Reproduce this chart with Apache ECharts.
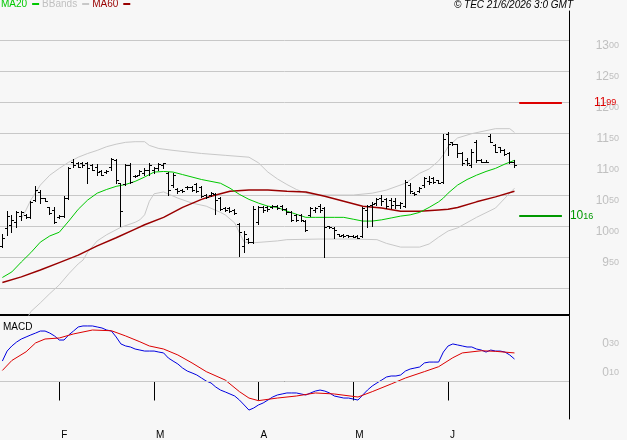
<!DOCTYPE html>
<html>
<head>
<meta charset="utf-8">
<script src="https://cdn.jsdelivr.net/npm/echarts@6/dist/echarts.min.js"></script>
<style>
html, body { margin: 0; padding: 0; background: #f7f7f7; }
#chart { width: 627px; height: 440px; }
</style>
</head>
<body>
<div id="chart"></div>
<script>
// trading days, Jan 14 -> Jul 3 2026 (bars stop on Jun 18, the rest is empty room)
var firstDay = '2026-01-14';
var lastDay = '2026-07-03';
var holidays = ['2026-04-03', '2026-04-06', '2026-05-01'];
var monthLetters = ['J', 'F', 'M', 'A', 'M', 'J', 'J', 'A', 'S', 'O', 'N', 'D'];

var opens = [9.68,9.97,10.02,10.06,10.16,10.18,10.14,10.42,10.55,10.45,10.30,10.26,10.14,10.16,10.45,11.04,11.01,11.01,11.01,10.98,
  10.96,10.88,10.87,10.95,11.06,10.69,10.67,10.98,10.80,10.83,10.85,10.90,10.90,10.93,10.98,10.85,10.66,10.59,10.58,10.63,
  10.63,10.67,10.63,10.50,10.50,10.51,10.45,10.29,10.29,10.26,10.03,9.68,9.79,9.74,10.06,10.30,10.30,10.30,10.32,10.32,
  10.27,10.22,10.18,10.18,10.08,10.18,10.26,10.32,10.29,10.00,9.97,9.87,9.86,9.86,9.84,9.84,9.84,10.26,10.34,10.37,
  10.45,10.43,10.42,10.40,10.34,10.32,10.66,10.53,10.56,10.66,10.72,10.77,10.74,10.71,11.49,11.35,11.32,11.17,11.06,10.98,
  11.36,11.06,11.04,11.46,11.30,11.27,11.22,11.17,11.04];
var highs = [9.87,10.24,10.18,10.24,10.24,10.19,10.40,10.64,10.58,10.45,10.30,10.30,10.18,10.48,10.95,11.08,11.03,11.03,11.03,11.00,
  11.00,10.90,10.90,11.09,11.08,10.69,11.00,11.01,10.82,10.90,10.93,11.01,10.95,11.01,11.01,10.87,10.85,10.61,10.59,10.64,
  10.64,10.69,10.64,10.51,10.55,10.53,10.47,10.30,10.30,10.27,10.05,9.92,9.81,10.32,10.32,10.32,10.32,10.34,10.34,10.34,
  10.29,10.24,10.19,10.19,10.10,10.30,10.30,10.35,10.30,10.00,9.98,9.87,9.87,9.86,9.86,9.86,10.30,10.34,10.39,10.45,
  10.50,10.45,10.45,10.45,10.39,10.74,10.69,10.55,10.63,10.79,10.80,10.79,10.75,11.49,11.52,11.36,11.33,11.19,11.09,11.24,
  11.38,11.08,11.06,11.49,11.32,11.28,11.24,11.19,11.06];
var lows = [9.66,9.86,9.90,9.98,10.10,10.13,10.13,10.40,10.37,10.40,10.19,10.05,10.13,10.14,10.43,10.95,10.95,10.95,10.69,10.90,
  10.82,10.82,10.85,10.90,10.69,10.00,10.66,10.69,10.79,10.82,10.82,10.82,10.85,10.90,10.93,10.50,10.63,10.53,10.55,10.59,
  10.56,10.55,10.47,10.45,10.48,10.19,10.26,10.24,10.22,10.19,9.52,9.58,9.73,9.73,10.03,10.22,10.24,10.29,10.27,10.26,
  10.19,10.08,10.08,10.08,9.92,10.16,10.22,10.22,9.50,9.97,9.81,9.84,9.82,9.82,9.82,9.81,9.82,9.98,10.00,10.34,
  10.34,10.29,10.29,10.29,10.29,10.30,10.53,10.50,10.55,10.63,10.67,10.69,10.69,10.69,11.14,11.30,11.12,10.98,10.98,10.95,
  11.03,11.03,11.03,11.35,11.19,11.20,11.14,11.01,10.95];
var closes = [9.81,10.16,10.10,10.22,10.22,10.14,10.39,10.58,10.45,10.40,10.21,10.06,10.16,10.45,10.93,10.98,10.96,10.98,10.93,10.91,
  10.87,10.83,10.88,11.08,10.74,10.24,10.98,10.71,10.80,10.88,10.90,10.98,10.93,11.00,11.01,10.58,10.82,10.56,10.56,10.63,
  10.58,10.56,10.48,10.47,10.53,10.42,10.27,10.26,10.24,10.21,9.90,9.87,9.74,10.27,10.30,10.26,10.27,10.32,10.29,10.27,
  10.22,10.10,10.10,10.10,9.94,10.29,10.29,10.26,9.98,9.98,9.94,9.84,9.84,9.84,9.82,9.81,10.29,10.32,10.35,10.43,
  10.40,10.32,10.34,10.34,10.37,10.71,10.56,10.51,10.61,10.77,10.71,10.71,10.69,11.40,11.32,11.32,11.17,11.01,11.01,11.20,
  11.06,11.04,11.04,11.36,11.20,11.22,11.16,11.03,10.98];

// indicator lines: [bar index, value]
var ma20 = [[0,9.17],[2,9.26],[4,9.42],[6,9.57],[8,9.74],[10,9.84],[12,9.90],[14,10.08],[16,10.27],[18,10.42],[20,10.53],[22,10.59],
  [24,10.64],[26,10.67],[28,10.72],[30,10.79],[32,10.87],[34,10.88],[36,10.87],[38,10.83],[40,10.79],[42,10.75],[44,10.72],[46,10.69],
  [48,10.61],[50,10.51],[52,10.43],[54,10.37],[56,10.32],[58,10.30],[60,10.24],[62,10.19],[64,10.14],[66,10.14],[68,10.14],[70,10.14],
  [72,10.14],[74,10.11],[76,10.08],[78,10.08],[80,10.10],[82,10.13],[84,10.16],[86,10.18],[88,10.22],[90,10.30],[92,10.39],[93,10.45],
  [94,10.53],[96,10.66],[98,10.75],[100,10.82],[102,10.88],[104,10.93],[106,11.00],[108,11.06]];
var ma60 = [[0,9.09],[4,9.18],[8,9.29],[12,9.41],[16,9.53],[20,9.68],[24,9.81],[28,9.95],[30,10.02],[34,10.14],[38,10.30],[42,10.43],
  [44,10.48],[48,10.56],[52,10.58],[56,10.58],[60,10.56],[64,10.55],[68,10.48],[72,10.40],[76,10.32],[80,10.29],[84,10.24],[88,10.24],
  [92,10.26],[94,10.27],[96,10.30],[100,10.39],[104,10.47],[108,10.56]];
var bbUpper = [[4,10.12],[5,10.26],[6,10.42],[8,10.66],[10,10.82],[12,10.93],[14,11.03],[16,11.11],[18,11.17],[20,11.22],[22,11.28],
  [24,11.32],[26,11.35],[28,11.36],[30,11.36],[31,11.30],[33,11.25],[36,11.22],[42,11.17],[47,11.14],[52,11.11],[54,11.02],[56,10.87],
  [58,10.76],[60,10.67],[62,10.59],[64,10.53],[66,10.50],[74,10.50],[78,10.53],[81,10.58],[85,10.69],[88,10.85],[90,10.92],[92,11.05],
  [93,11.15],[94,11.28],[96,11.42],[99,11.49],[104,11.57],[107,11.57],[108,11.51]];
var bbLower = [[4,8.33],[6,8.62],[8,8.76],[10,8.91],[12,9.05],[14,9.23],[16,9.39],[17,9.45],[18,9.58],[20,9.76],[22,9.86],[25,9.98],
  [28,10.06],[29,10.10],[30,10.18],[31,10.40],[32,10.52],[34,10.55],[37,10.45],[40,10.37],[43,10.32],[46,10.22],[47,10.18],[49,10.05],
  [50,9.89],[51,9.74],[53,9.73],[58,9.76],[60,9.78],[67,9.79],[74,9.79],[79,9.78],[81,9.72],[84,9.66],[88,9.66],[90,9.71],[92,9.82],
  [94,9.92],[96,9.97],[100,10.14],[104,10.29],[106,10.45],[108,10.61]];

var macdLine = [0.141,0.210,0.245,0.272,0.293,0.307,0.321,0.334,0.348,0.348,
  0.334,0.314,0.286,0.286,0.321,0.348,0.376,0.383,0.383,0.383,
  0.376,0.369,0.355,0.348,0.307,0.259,0.245,0.238,0.224,0.217,
  0.210,0.210,0.210,0.203,0.197,0.162,0.141,0.121,0.093,0.072,
  0.059,0.045,0.024,0.003,-0.010,-0.038,-0.059,-0.072,-0.086,-0.100,
  -0.128,-0.162,-0.197,-0.183,-0.162,-0.148,-0.128,-0.107,-0.093,-0.086,
  -0.079,-0.079,-0.079,-0.086,-0.093,-0.079,-0.066,-0.059,-0.066,-0.079,
  -0.100,-0.107,-0.114,-0.114,-0.121,-0.128,-0.093,-0.059,-0.031,-0.010,
  0.010,0.031,0.038,0.038,0.045,0.072,0.086,0.093,0.100,0.128,
  0.134,0.134,0.134,0.203,0.245,0.259,0.252,0.245,0.238,0.238,
  0.224,0.217,0.203,0.217,0.210,0.210,0.203,0.183,0.155];
var signalLine = [[0,0.076],[2,0.145],[5,0.205],[7,0.266],[9,0.293],[12,0.300],[15,0.328],[19,0.355],[23,0.350],[26,0.314],[29,0.274],
  [31,0.245],[34,0.224],[37,0.183],[40,0.128],[43,0.068],[47,0.010],[50,-0.070],[52,-0.114],[54,-0.132],[58,-0.114],[62,-0.100],
  [66,-0.079],[70,-0.086],[75,-0.107],[78,-0.070],[82,-0.017],[85,0.024],[89,0.068],[92,0.102],[95,0.164],[97,0.197],[101,0.212],
  [104,0.208],[108,0.197]];

var resistanceLevel = 11.99;
var supportLevel = 10.16;

var FONT = '"Liberation Sans", Arial, sans-serif';
var GRID_GRAY = '#c8c8c8';
var LABEL_GRAY = '#c0c0c0';

// build the category list
var categories = [];
var day = new Date(firstDay + 'T00:00:00Z');
while (day.toISOString().slice(0, 10) <= lastDay) {
    var s = day.toISOString().slice(0, 10);
    var wd = day.getUTCDay();
    if (wd !== 0 && wd !== 6 && holidays.indexOf(s) < 0) categories.push(s);
    day.setUTCDate(day.getUTCDate() + 1);
}

var lastBar = opens.length - 1;

// month marks only where there are bars
function isMonthEnd(index) {
    return index < lastBar && categories[index].slice(5, 7) !== categories[index + 1].slice(5, 7);
}

function priceRich(v) {
    var p = v.toFixed(2).split('.');
    return '{i|' + p[0] + '}{d|' + p[1] + '}';
}

function richStyle(color) {
    return {
        i: { fontSize: 12, color: color, fontFamily: FONT, lineHeight: 11, verticalAlign: 'middle' },
        d: { fontSize: 9, color: color, fontFamily: FONT, lineHeight: 11, verticalAlign: 'middle' }
    };
}

var ohlcData = opens.map(function (o, i) {
    return [i, o, highs[i], lows[i], closes[i]];
});
var macdData = macdLine.map(function (v, i) { return [i, v]; });

function renderOhlc(params, api) {
    var i = api.value(0);
    var pO = api.coord([i, api.value(1)]);
    var pH = api.coord([i, api.value(2)]);
    var pL = api.coord([i, api.value(3)]);
    var pC = api.coord([i, api.value(4)]);
    var col = Math.floor(pO[0]);
    var top = Math.round(pH[1]);
    var bottom = Math.round(pL[1]);
    var style = { fill: '#000' };
    return {
        type: 'group',
        children: [
            { type: 'rect', shape: { x: col, y: top, width: 1, height: Math.max(1, bottom - top + 1) }, style: style },
            { type: 'rect', shape: { x: col - 2, y: Math.round(pO[1]), width: 2, height: 1 }, style: style },
            { type: 'rect', shape: { x: col + 1, y: Math.round(pC[1]), width: 2, height: 1 }, style: style }
        ]
    };
}

function levelLine(level, color, distance) {
    return [
        {
            coord: [lastBar + 1, level],
            lineStyle: { color: color, width: 2, type: 'solid' },
            label: {
                show: true,
                position: 'end',
                distance: distance,
                formatter: priceRich(level),
                rich: richStyle(color)
            }
        },
        { coord: [lastBar + 10, level] }
    ];
}

var chart = echarts.init(document.getElementById('chart'));

var option = {
    backgroundColor: '#f7f7f7',
    animation: false,
    textStyle: { fontFamily: FONT },
    title: [
        {
            text: '© TEC 21/6/2026 3:0 GMT',
            right: 54, top: 0, padding: 0,
            textStyle: { fontSize: 10, fontStyle: 'italic', fontWeight: 'normal', color: '#000', lineHeight: 11, fontFamily: FONT }
        },
        {
            text: 'MACD',
            left: 3, top: 322, padding: 0,
            textStyle: { fontSize: 10, fontWeight: 'normal', color: '#000', lineHeight: 11, fontFamily: FONT }
        }
    ],
    legend: {
        left: 1, top: -1, padding: 0,
        itemGap: 3, itemWidth: 7, itemHeight: 2,
        align: 'right', icon: 'rect', selectedMode: false,
        textStyle: { fontSize: 10, fontFamily: FONT },
        data: [
            { name: 'MA20', textStyle: { color: '#00c800' } },
            { name: 'BBands', textStyle: { color: LABEL_GRAY } },
            { name: 'MA60', textStyle: { color: '#990000' } }
        ]
    },
    grid: [
        { left: 0, right: 58, top: 11, bottom: 125, outerBoundsMode: 'none' },
        { left: 0, right: 58, top: 316, bottom: 21, outerBoundsMode: 'none' }
    ],
    xAxis: [
        {
            type: 'category', gridIndex: 0, data: categories, boundaryGap: true,
            axisLine: { lineStyle: { color: '#000', width: 2 } },
            axisTick: { show: false }, axisLabel: { show: false }, splitLine: { show: false }
        },
        {
            type: 'category', gridIndex: 1, data: categories, boundaryGap: true,
            axisLine: { lineStyle: { color: '#000', width: 1 } },
            axisTick: {
                show: true, alignWithLabel: true, length: 19,
                interval: function (index) { return isMonthEnd(index); },
                lineStyle: { color: '#000' }
            },
            axisLabel: {
                show: true, margin: 11, fontSize: 10, color: '#000', fontFamily: FONT,
                align: 'left', padding: [0, 0, 0, 2],
                interval: function (index) { return isMonthEnd(index); },
                formatter: function (value, index) {
                    var next = categories[index + 1];
                    return next ? monthLetters[parseInt(next.slice(5, 7), 10) - 1] : '';
                }
            },
            splitLine: { show: false }
        }
    ],
    yAxis: [
        {
            type: 'value', gridIndex: 0, position: 'right',
            min: 8.565, max: 13.468, splitNumber: 10,
            axisLine: { show: true, lineStyle: { color: '#000', width: 1 } },
            axisTick: { show: false },
            splitLine: { show: true, showMinLine: false, showMaxLine: false, lineStyle: { color: GRID_GRAY, width: 1 } },
            axisLabel: {
                margin: 50, align: 'right', verticalAlign: 'top',
                showMinLabel: false, showMaxLabel: false,
                formatter: function (v) { return v < 9.25 ? '' : priceRich(v); },
                rich: richStyle(LABEL_GRAY)
            }
        },
        {
            type: 'value', gridIndex: 1, position: 'right',
            min: -0.2586, max: 0.4517,
            axisLine: { show: true, lineStyle: { color: '#000', width: 1 } },
            axisTick: { show: false },
            splitLine: { show: false },
            axisLabel: {
                margin: 50, align: 'right', verticalAlign: 'top',
                showMinLabel: false, showMaxLabel: false,
                formatter: function (v) {
                    var t = v.toFixed(2);
                    return (t === '0.10' || t === '0.30') ? priceRich(v) : '';
                },
                rich: richStyle(LABEL_GRAY)
            }
        }
    ],
    series: [
        {
            name: 'BBands', type: 'line', xAxisIndex: 0, yAxisIndex: 0, data: bbUpper,
            symbol: 'none', color: GRID_GRAY, lineStyle: { width: 1, color: GRID_GRAY }, z: 2
        },
        {
            name: 'BBands', type: 'line', xAxisIndex: 0, yAxisIndex: 0, data: bbLower,
            symbol: 'none', color: GRID_GRAY, lineStyle: { width: 1, color: GRID_GRAY }, z: 2
        },
        {
            name: 'MA60', type: 'line', xAxisIndex: 0, yAxisIndex: 0, data: ma60,
            symbol: 'none', color: '#990000', lineStyle: { width: 1.5, color: '#990000' }, z: 3
        },
        {
            name: 'MA20', type: 'line', xAxisIndex: 0, yAxisIndex: 0, data: ma20,
            symbol: 'none', color: '#00c800', lineStyle: { width: 1, color: '#00c800' }, z: 3,
            markLine: {
                silent: true, symbol: 'none', animation: false,
                data: [
                    levelLine(resistanceLevel, '#dd0000', 32),
                    levelLine(supportLevel, '#009900', 8)
                ]
            }
        },
        {
            name: 'OHLC', type: 'custom', xAxisIndex: 0, yAxisIndex: 0,
            data: ohlcData, renderItem: renderOhlc, clip: true,
            encode: { x: 0, y: [1, 2, 3, 4] }, z: 4
        },
        {
            name: 'MACD', type: 'line', xAxisIndex: 1, yAxisIndex: 1, data: macdData,
            symbol: 'none', color: '#0000e0', lineStyle: { width: 1, color: '#0000e0' }, z: 3,
            markLine: {
                silent: true, symbol: 'none', animation: false,
                lineStyle: { color: GRID_GRAY, width: 1, type: 'solid' },
                label: { show: false },
                data: [{ yAxis: 0 }]
            }
        },
        {
            name: 'Signal', type: 'line', xAxisIndex: 1, yAxisIndex: 1, data: signalLine,
            symbol: 'none', color: '#dd0000', lineStyle: { width: 1, color: '#dd0000' }, z: 3
        }
    ]
};

chart.setOption(option);
</script>
</body>
</html>
